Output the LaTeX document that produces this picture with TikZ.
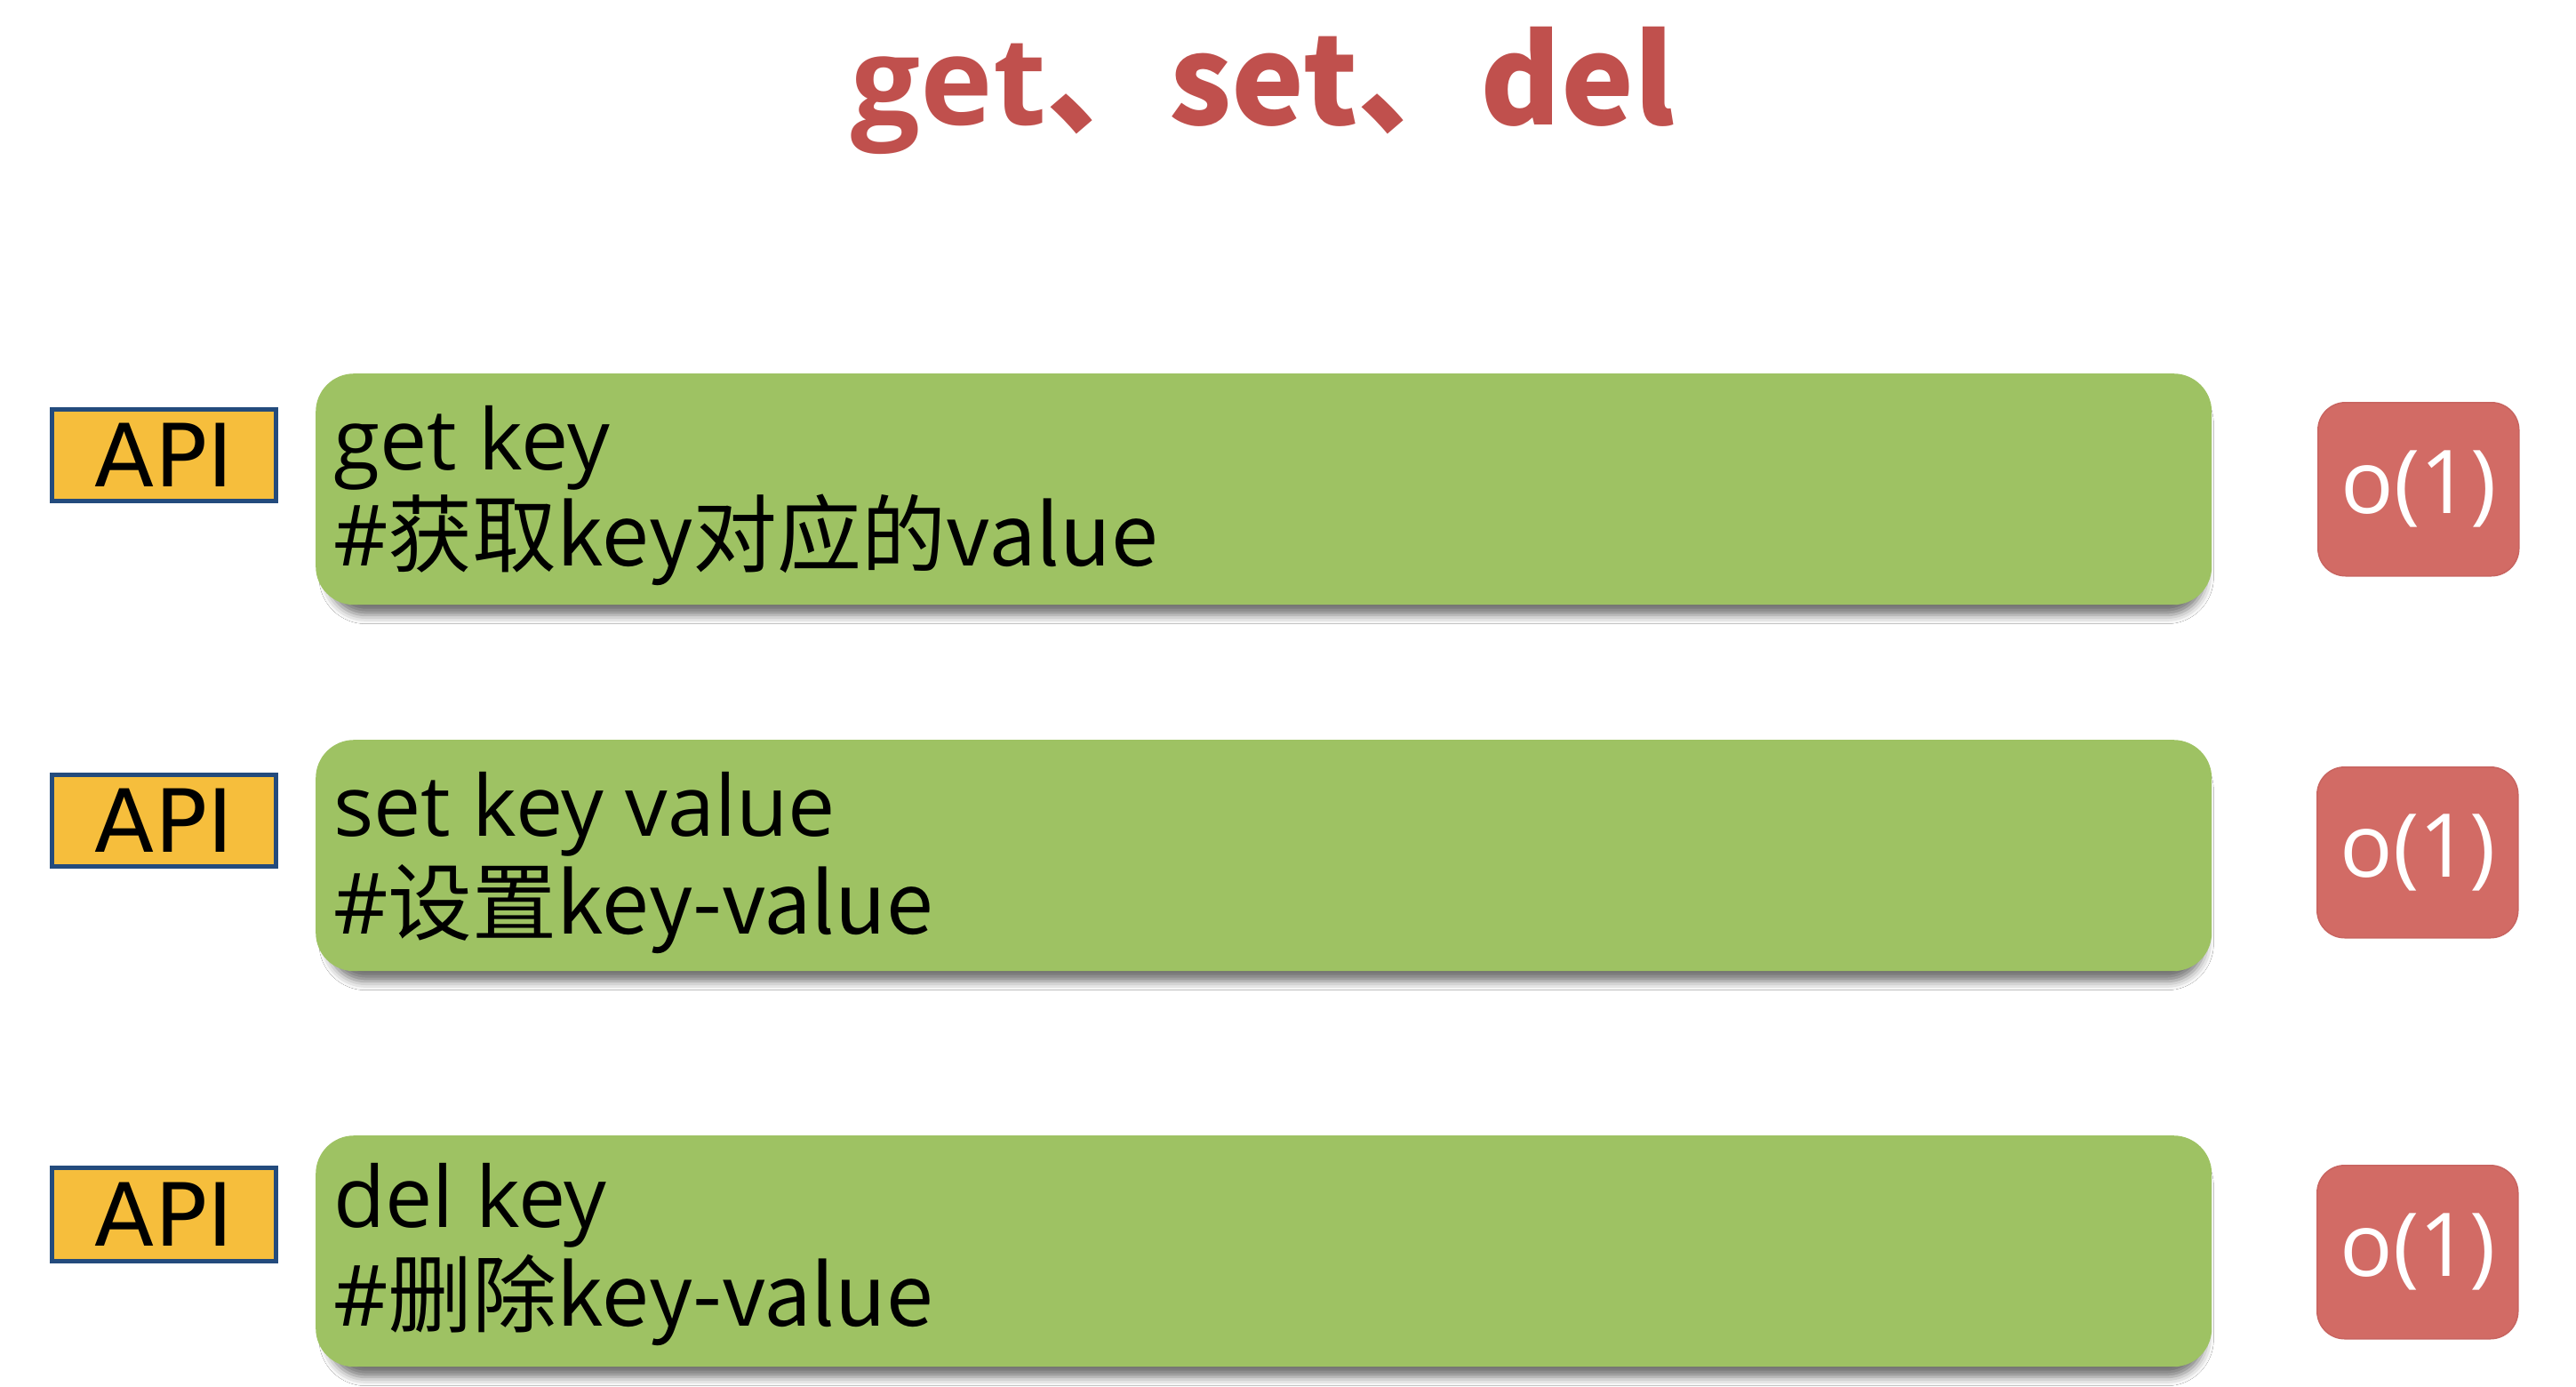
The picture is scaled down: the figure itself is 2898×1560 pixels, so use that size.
\documentclass[tikz,border=0pt]{standalone}
\usepackage{fontspec}
\setmainfont{Open Sans}
\newfontfamily\cjk{Noto Sans CJK SC}
\newfontfamily\apifont{DejaVu Sans}
\usetikzlibrary{shadows.blur}
\definecolor{titlered}{RGB}{192,80,77}
\definecolor{boxgreen}{RGB}{158,194,99}
\definecolor{apiorange}{RGB}{246,190,60}
\definecolor{apiblue}{RGB}{35,75,125}
\definecolor{cxred}{RGB}{210,107,101}
\definecolor{cxedge}{RGB}{200,100,96}
\begin{document}
\begin{tikzpicture}[x=1pt,y=-1pt,
  greenbox/.style={fill=boxgreen, rounded corners=43pt, inner sep=0pt, anchor=north west,
    blur shadow={shadow xshift=3pt, shadow yshift=-13pt, shadow scale=0.99, shadow blur radius=10pt, shadow opacity=55}},
  apibox/.style={fill=apiorange, draw=apiblue, line width=5pt, inner sep=0pt, anchor=north west,
    font=\apifont\fontsize{98}{110}\selectfont},
  cxbox/.style={fill=cxred, draw=cxedge, line width=1.5pt, rounded corners=31pt, inner sep=0pt, anchor=north west},
  cxtext/.style={text=white, inner sep=0pt, font=\fontsize{99}{110}\selectfont},
  linetext/.style={anchor=base west, inner sep=0pt, font=\fontsize{95}{110}\selectfont}]
\fill[white] (0,0) rectangle (2898,1560);
\useasboundingbox (0,0) rectangle (2898,1560);

\node[anchor=base, inner sep=0pt, text=titlered, font=\bfseries\fontsize{138}{160}\selectfont] (title) at (1421,140)
  {get\cjk{\bfseries 、}set\cjk{\bfseries 、}del};

% row 1
\node[apibox, minimum width=252pt, minimum height=103pt] (api1) at (56,458) {API};
\node[greenbox, minimum width=2133pt, minimum height=260pt] (g1) at (355,420) {};
\node[linetext] (t1a) at (375,528) {get key};
\node[linetext] (t1b) at (375,636) {\#\cjk{获取}key\cjk{对应的}value};
\node[cxbox, minimum width=226pt, minimum height=195pt] (c1) at (2607,452) {};
\node[cxtext] (c1t) at (c1.center) {o(1)};

% row 2
\node[apibox, minimum width=252pt, minimum height=103pt] (api2) at (56,869) {API};
\node[greenbox, minimum width=2133pt, minimum height=260pt] (g2) at (355,832) {};
\node[linetext] (t2a) at (375,940) {set key value};
\node[linetext] (t2b) at (375,1050) {\#\cjk{设置}key-value};
\node[cxbox, minimum width=226pt, minimum height=192pt] (c2) at (2606,862) {};
\node[cxtext] (c2t) at (c2.center) {o(1)};

% row 3
\node[apibox, minimum width=252pt, minimum height=105pt] (api3) at (56,1311) {API};
\node[greenbox, minimum width=2133pt, minimum height=260pt] (g3) at (355,1277) {};
\node[linetext] (t3a) at (375,1380) {del key};
\node[linetext] (t3b) at (375,1491) {\#\cjk{删除}key-value};
\node[cxbox, minimum width=226pt, minimum height=195pt] (c3) at (2606,1310) {};
\node[cxtext] (c3t) at (c3.center) {o(1)};
\end{tikzpicture}
\end{document}
